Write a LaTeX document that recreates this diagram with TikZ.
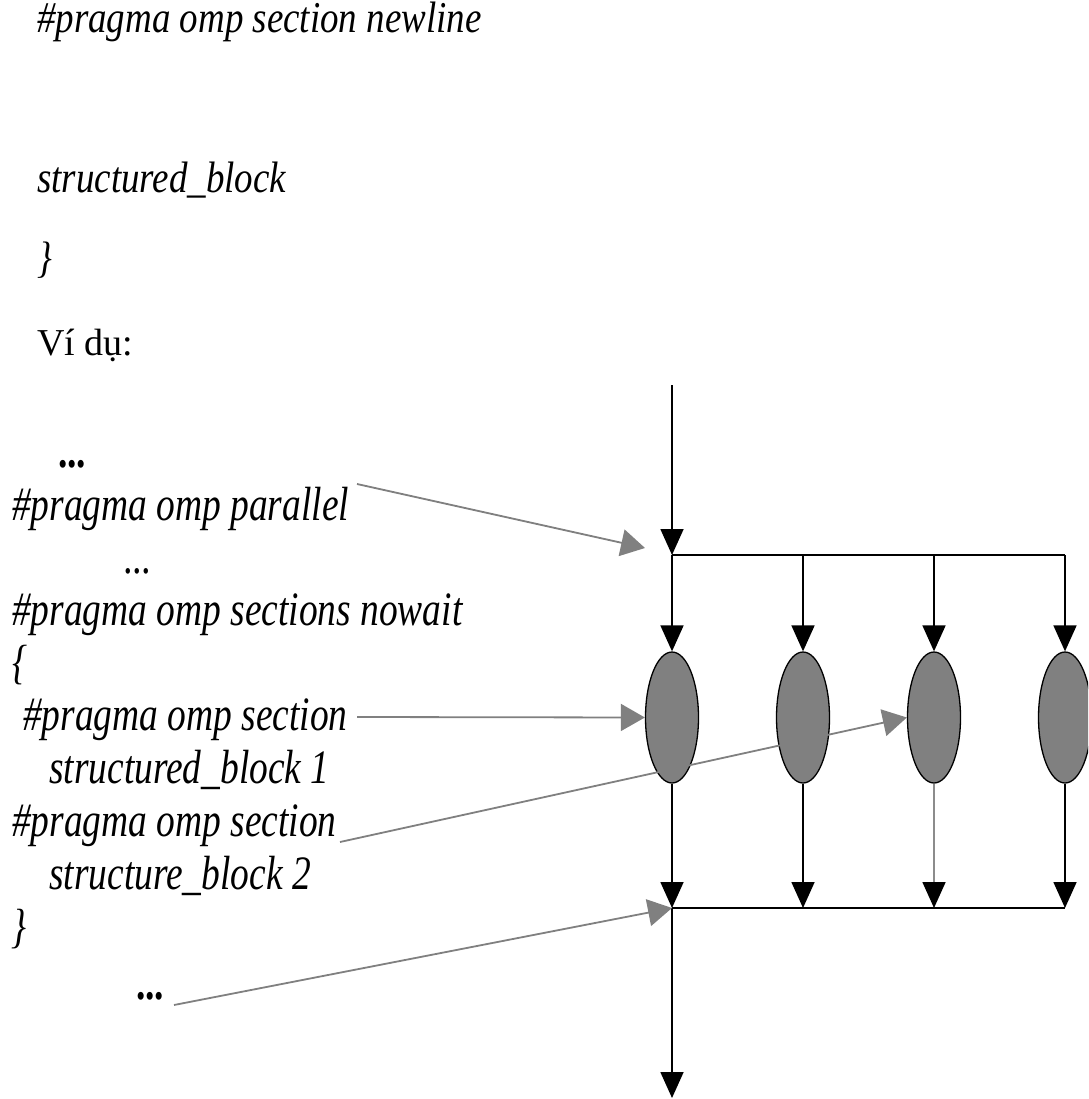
\documentclass[tikz,border=0pt]{standalone}
\usepackage{fontspec}
\setmainfont{Liberation Serif}
\usetikzlibrary{arrows.meta,shapes.geometric}
\begin{document}
\begin{tikzpicture}[x=1pt,y=-1pt,
  body/.style={anchor=base west, inner sep=0pt, font=\fontsize{38}{44}\selectfont},
  bodyit/.style={anchor=base west, inner sep=0pt, xscale=0.84,
    font=\fontsize{44}{50}\selectfont\itshape},
  code/.style={anchor=base west, inner sep=0pt, xscale=0.78,
    font=\fontsize{48}{54}\selectfont\itshape},
  dots/.style={code, font=\fontsize{48}{54}\selectfont\bfseries},
  task/.style={ellipse, draw=black, line width=1.3pt, fill=black!50,
    minimum width=53pt, minimum height=131pt, inner sep=0pt},
  flow/.style={draw=black, line width=1.7pt, -{Triangle[length=26pt,width=23pt]}},
  bar/.style={draw=black, line width=1.7pt},
  note/.style={draw=black!50, line width=1.8pt, -{Triangle[length=24pt,width=27pt]}}
]
\useasboundingbox (0,0) rectangle (1088,1099);
\clip (0,0) rectangle (1088,1099);

% syntax lines above the example
\node[bodyit] (syn1) at (37,33) {\#pragma omp section newline};
\node[bodyit] (syn2) at (37,193) {structured\_block};
\node[bodyit] (syn3) at (37,272) {\}};
\node[body] (vidu) at (37,355) {Ví dụ:};

% example code
\node[dots] (d1) at (58,467) {...};
\node[code] (c1) at (12,520) {\#pragma omp parallel};
\node[code] (d2) at (124,573) {...};
\node[code] (c2) at (12,625) {\#pragma omp sections nowait};
\node[code] (c3) at (12,678) {\{};
\node[code] (c4) at (23,730) {\#pragma omp section};
\node[code] (c5) at (49,783) {structured\_block 1};
\node[code] (c6) at (12,836) {\#pragma omp section};
\node[code] (c7) at (49,889) {structure\_block 2};
\node[code] (c8) at (11,942) {\}};
\node[dots] (d3) at (136,999) {...};

% fork / join skeleton
\coordinate (top) at (672,385);
\coordinate (fork) at (672,555);
\coordinate (join) at (672,908);
\coordinate (bot) at (672,1098);
\coordinate (forkin) at (645,548);
\foreach \i/\x in {1/672,2/803,3/934,4/1065} {
  \coordinate (f\i) at (\x,555);
  \coordinate (j\i) at (\x,908);
  \node[task] (t\i) at (\x,717.5) {};
}
\draw[flow] (top) -- (fork);
\draw[bar] (f1) -- (f4);
\draw[bar] (j1) -- (j4);
\foreach \i in {1,2,3,4} \draw[flow] (f\i) -- (t\i.north);
\foreach \i in {1,2,4} \draw[flow] (t\i.south) -- (j\i);
\draw[flow, draw=black!45, -{Triangle[length=26pt,width=23pt,color=black]}] (t3.south) -- (j3);
\draw[flow] (join) -- (bot);

% pointers from the code to the diagram
\coordinate (p1) at (357,484);
\coordinate (p2) at (357,717);
\coordinate (p3) at (340,842);
\coordinate (p4) at (174,1005);
\draw[note] (p1) -- (forkin);
\draw[note] (p2) -- (t1.west);
\draw[note] (p3) -- (t3.west);
\draw[note] (p4) -- (join);
\end{tikzpicture}
\end{document}
